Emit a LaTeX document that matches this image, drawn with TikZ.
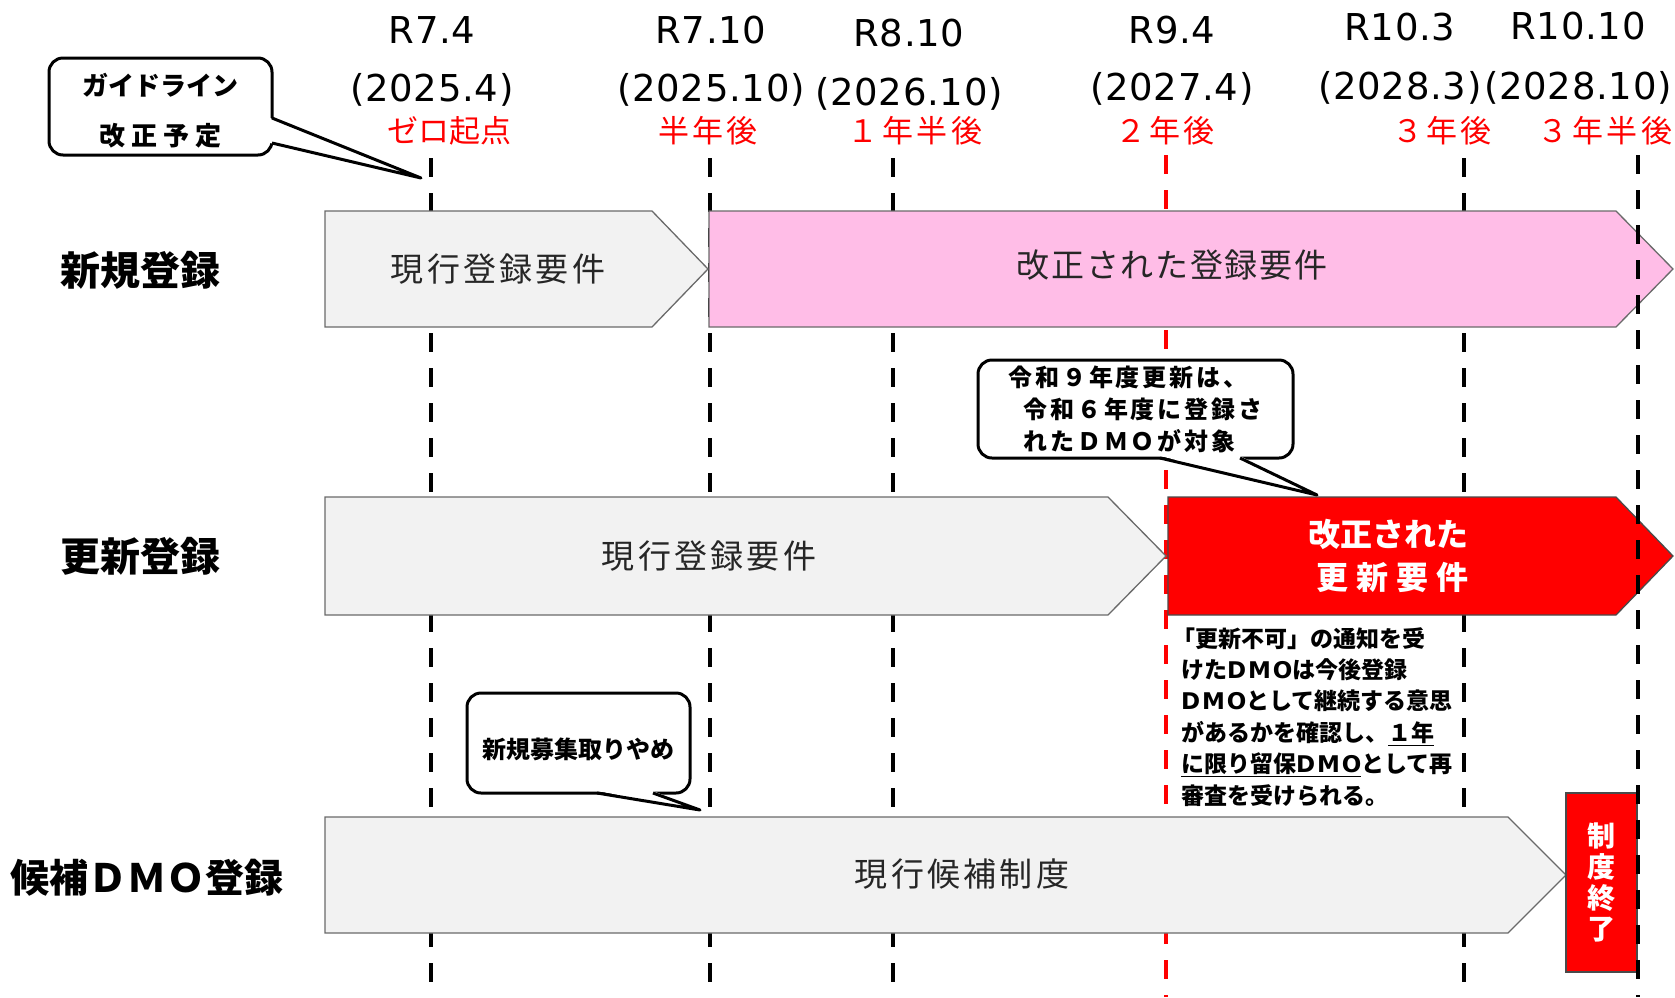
\documentclass[tikz,border=0pt]{standalone}
\usepackage{fontspec}
\setmainfont{Noto Sans CJK JP}
\newfontfamily\lat[LetterSpace=2]{DejaVu Sans}
\newfontfamily\latb[LetterSpace=8]{DejaVu Sans}
\newfontfamily\jpa[LetterSpace=10]{Noto Sans CJK JP}
\newfontfamily\jpb[LetterSpace=5]{Noto Sans CJK JP}
\newfontfamily\jpc[LetterSpace=12]{Noto Sans CJK JP}
\newfontfamily\jpd[LetterSpace=23]{Noto Sans CJK JP}
\newfontfamily\jpr[LetterSpace=11]{Noto Sans CJK JP}
\usetikzlibrary{calc}
\definecolor{gfill}{HTML}{F2F2F2}
\definecolor{gedge}{HTML}{6A6A6A}
\definecolor{pinkfill}{HTML}{FFBDE7}
\definecolor{redfill}{HTML}{FF0000}
\definecolor{txtgray}{HTML}{262626}
\definecolor{redtext}{HTML}{FF0000}
\newcommand{\dmo}{{\latb\bfseries DMO}}
\begin{document}
\begin{tikzpicture}[x=1pt,y=-1pt,
  dline/.style={line width=3.6pt, dash pattern=on 19pt off 16pt},
  garrow/.style={fill=gfill, draw=gedge, line width=1.3pt},
  callout/.style={draw=black, line width=3pt, rounded corners=14pt, fill=white, inner sep=0pt},
  tailfill/.style={fill=white},
  tailline/.style={draw=black, line width=3pt, line join=round},
  toplab/.style={font=\lat\fontsize{37}{42}\selectfont, text=black, inner sep=0pt},
  redlab/.style={font=\jpr\fontsize{31}{36}\selectfont, text=redtext, inner sep=0pt},
  rowlab/.style={font=\bfseries\fontsize{40}{44}\selectfont, inner sep=0pt},
  arrtext/.style={font=\jpa\fontsize{33}{40}\selectfont, text=txtgray, inner sep=0pt},
]
\useasboundingbox (0,0) rectangle (1675,997);

% ---- vertical dashed time lines (behind) ----
\coordinate (la1) at (431,158); \coordinate (la2) at (431,997);
\coordinate (lb1) at (710,158); \coordinate (lb2) at (710,997);
\coordinate (lc1) at (893,158); \coordinate (lc2) at (893,997);
\coordinate (ld1) at (1166,155); \coordinate (ld2) at (1166,997);
\coordinate (le1) at (1464,158); \coordinate (le2) at (1464,997);
\coordinate (lf1) at (1638,155); \coordinate (lf2) at (1638,997);
\draw[dline] (la1) -- (la2);
\draw[dline] (lb1) -- (lb2);
\draw[dline] (lc1) -- (lc2);
\draw[dline, redfill] (ld1) -- (ld2);
\draw[dline] (le1) -- (le2);

% ---- timeline labels ----
\node[toplab] (r1) at (432,30) {R7.4};
\node[toplab] (r2) at (711,30) {R7.10};
\node[toplab] (r3) at (909,33) {R8.10};
\node[toplab] (r4) at (1172,30) {R9.4};
\node[toplab] (r5) at (1400,27) {R10.3};
\node[toplab] (r6) at (1578,26) {R10.10};
\node[toplab] (y1) at (432,90) {(2025.4)};
\node[toplab] (y2) at (711,90) {(2025.10)};
\node[toplab] (y3) at (909,94) {(2026.10)};
\node[toplab] (y4) at (1172,89) {(2027.4)};
\node[toplab] (y5) at (1400,88) {(2028.3)};
\node[toplab] (y6) at (1578,88) {(2028.10)};
\node[redlab, font=\fontsize{31}{36}\selectfont] (k1) at (449,131) {ゼロ起点};
\node[redlab] (k2) at (708,131) {半年後};
\node[redlab] (k3) at (915,131) {１年半後};
\node[redlab] (k4) at (1165,131) {２年後};
\node[redlab] (k5) at (1442,131) {３年後};
\node[redlab] (k6) at (1605,131) {３年半後};

% ---- row labels ----
\node[rowlab] (row1) at (140,270) {新規登録};
\node[rowlab] (row2) at (140,556) {更新登録};
\node[rowlab, font=\bfseries\fontsize{39}{44}\selectfont] (row3) at (147,878) {候補ＤＭＯ登録};

% ---- row 1 ----
\path[garrow] (325,211) -- (652,211) -- (708,269) -- (652,327) -- (325,327) -- cycle;
\path[fill=pinkfill, draw=gedge, line width=1.3pt] (709,211) -- (1616,211) -- (1673,269) -- (1616,327) -- (709,327) -- cycle;
\node[arrtext] (a11) at (498,269) {現行登録要件};
\node[arrtext, font=\jpb\fontsize{33}{40}\selectfont] (a12) at (1172,265) {改正された登録要件};

% ---- row 2 ----
\path[garrow] (325,497) -- (1108,497) -- (1166,556) -- (1108,615) -- (325,615) -- cycle;
\path[fill=redfill, draw=gedge!70!black, line width=1.3pt] (1168,497) -- (1616,497) -- (1673,556) -- (1616,615) -- (1168,615) -- cycle;
\node[arrtext] (a21) at (709,556) {現行登録要件};
\node[font=\bfseries\fontsize{32}{43}\selectfont, text=white, align=right, anchor=east, inner sep=0pt] (a22) at (1469,556) {改正された\\更\hspace{8pt}新\hspace{8pt}要\hspace{8pt}件};

% ---- row 3 ----
\path[garrow] (325,817) -- (1508,817) -- (1566,875) -- (1508,933) -- (325,933) -- cycle;
\node[arrtext] (a31) at (962,874) {現行候補制度};
\node[fill=redfill, draw=gedge!70!black, line width=1.3pt, minimum width=71pt, minimum height=179pt, inner sep=0pt,
      font=\bfseries\fontsize{28}{31}\selectfont, text=white, align=center] (endbox) at (1601.5,882.5) {制\\度\\終\\了};

% last time line on top
\draw[dline] (lf1) -- (lf2);

% ---- callout 1 ----
\node[callout, minimum width=223pt, minimum height=97pt, align=center,
      font=\bfseries\fontsize{26}{50}\selectfont] (c1) at (160.5,106.5)
      {\raisebox{-4pt}[\height][\depth]{ガイドライン}\\\raisebox{-4pt}[\height][\depth]{\jpd 改正予定}};
\coordinate (c1a) at (270,118); \coordinate (c1b) at (270,143); \coordinate (c1t) at (421,178);
\coordinate (c1ae) at (272,118); \coordinate (c1be) at (272,143);
\fill[tailfill] (c1a) -- (c1t) -- (c1b) -- cycle;
\draw[tailline] (c1ae) -- (c1t) -- (c1be);

% ---- callout 2 ----
\node[callout, minimum width=315pt, minimum height=98pt, align=left,
      font=\jpc\bfseries\fontsize{24}{32}\selectfont] (c2) at (1135.5,409) {令和９年度更新は、\\\hspace*{15pt}令和６年度に登録さ\\\hspace*{15pt}れたＤＭＯが対象};
\coordinate (c2a) at (1160,456); \coordinate (c2b) at (1240,456); \coordinate (c2t) at (1317,495);
\coordinate (c2ae) at (1160,458); \coordinate (c2be) at (1240,458);
\fill[tailfill] (c2a) -- (c2t) -- (c2b) -- cycle;
\draw[tailline] (c2ae) -- (c2t) -- (c2be);

% ---- callout 3 ----
\node[callout, minimum width=223pt, minimum height=100pt,
      font=\bfseries\fontsize{24}{30}\selectfont] (c3) at (578.5,743)
      {\raisebox{-6pt}[\height][\depth]{新規募集取りやめ}};
\coordinate (c3a) at (597,791); \coordinate (c3b) at (653,791); \coordinate (c3t) at (700,810);
\coordinate (c3ae) at (597,793); \coordinate (c3be) at (653,793);
\fill[tailfill] (c3a) -- (c3t) -- (c3b) -- cycle;
\draw[tailline] (c3ae) -- (c3t) -- (c3be);

% ---- note ----
\node[anchor=north west, align=left, inner sep=0pt, font=\bfseries\fontsize{23}{31.4}\selectfont] (note) at (1181,627)
  {\hspace*{-9pt}「更新不可」の通知を受\\けた\dmo は今後登録\\\dmo として継続する意思\\があるかを確認し、\underline{１年}\\\underline{に限り留保\dmo}として再\\審査を受けられる。};
\end{tikzpicture}
\end{document}
